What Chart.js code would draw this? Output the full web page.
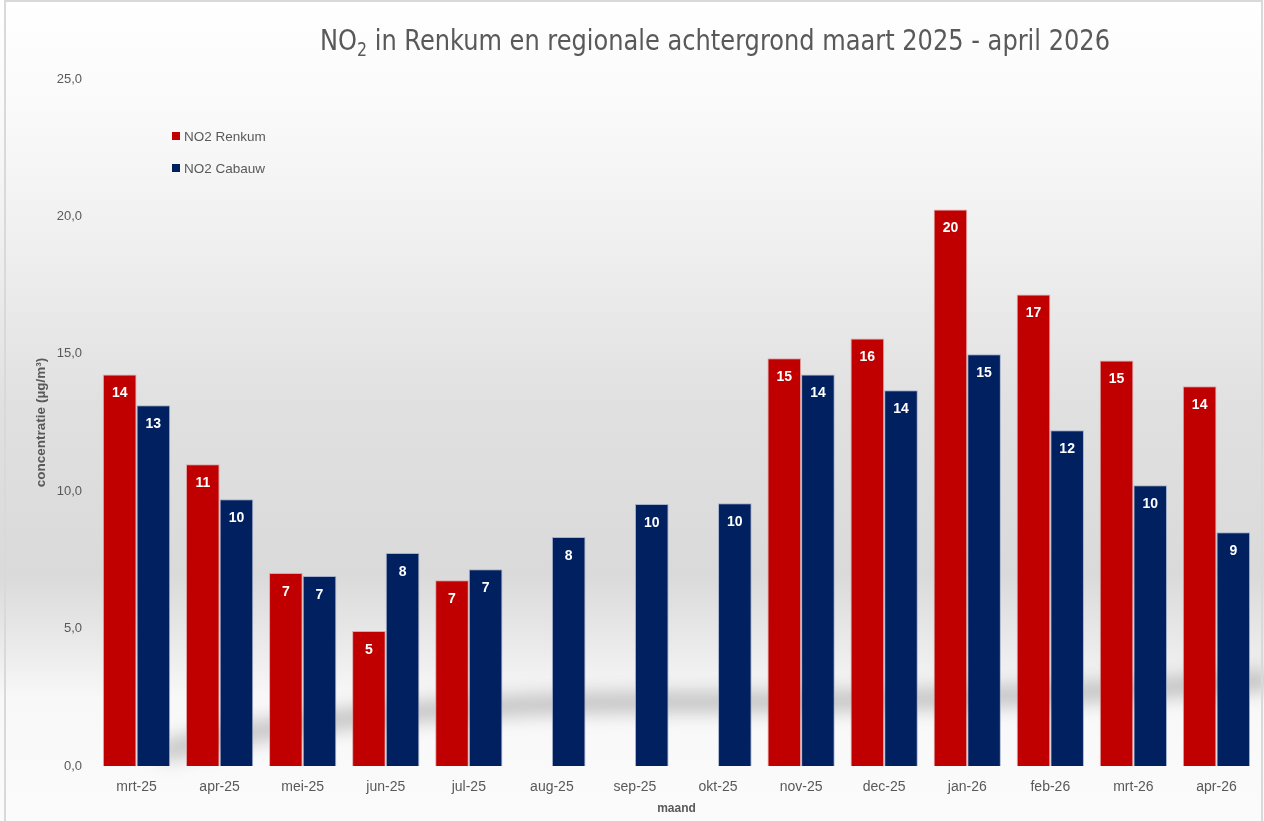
<!DOCTYPE html>
<html>
<head>
<meta charset="utf-8">
<script src="https://cdn.jsdelivr.net/npm/chart.js@4.4.1/dist/chart.umd.min.js"></script>
<style>
  html, body { margin: 0; padding: 0; background: #ffffff; }
  #wrap { width: 1264px; height: 821px; position: relative; }
</style>
</head>
<body>
<div id="wrap"><canvas id="c" width="1264" height="821"></canvas></div>
<script>
const categories = ['mrt-25','apr-25','mei-25','jun-25','jul-25','aug-25','sep-25','okt-25','nov-25','dec-25','jan-26','feb-26','mrt-26','apr-26'];
const renkum = [14.25, 10.98, 7.02, 4.91, 6.76, null, null, null, 14.84, 15.56, 20.25, 17.16, 14.76, 13.82];
const cabauw = [13.13, 9.71, 6.91, 7.75, 7.16, 8.33, 9.53, 9.56, 14.25, 13.67, 14.98, 12.22, 10.22, 8.51];
const yTicks = [0, 5, 10, 15, 20, 25];
const seriesNames = ['NO2 Renkum', 'NO2 Cabauw'];
const titleMain = 'NO';
const titleSub = '2';
const titleRest = ' in Renkum en regionale achtergrond maart 2025 - april 2026';
const yTitle = 'concentratie (µg/m³)';
const xTitle = 'maand';

const RED = '#C00000';
const NAVY = '#002060';
const GREY_TXT = '#595959';
const FONT = "'Liberation Sans', 'Open Sans', sans-serif";

const bgPlugin = {
  id: 'bg',
  beforeDraw(chart) {
    const ctx = chart.ctx;
    const W = chart.width, H = chart.height;
    ctx.save();
    const g = ctx.createLinearGradient(0, 0, 0, H);
    g.addColorStop(0.00, '#ffffff');
    g.addColorStop(0.15, '#f9f9f9');
    g.addColorStop(0.30, '#efefef');
    g.addColorStop(0.50, '#e0e0e0');
    g.addColorStop(0.70, '#dadada');
    g.addColorStop(0.79, '#ebebeb');
    g.addColorStop(0.85, '#f8f8f8');
    g.addColorStop(1.00, '#fbfbfb');
    ctx.fillStyle = g;
    ctx.fillRect(0, 0, W, H);
    // soft diagonal shadow band
    ctx.filter = 'blur(9px)';
    ctx.strokeStyle = 'rgba(140,140,140,0.5)';
    ctx.lineWidth = 20;
    ctx.beginPath();
    ctx.moveTo(160, 752);
    ctx.quadraticCurveTo(360, 700, 700, 702);
    ctx.quadraticCurveTo(1000, 702, 1270, 680);
    ctx.stroke();
    ctx.filter = 'none';
    // frame
    ctx.strokeStyle = '#d9d9d9';
    ctx.lineWidth = 2;
    ctx.strokeRect(5, 1, W - 7, H + 5);
    ctx.restore();
  }
};

const overlayPlugin = {
  id: 'overlay',
  afterDraw(chart) {
    const ctx = chart.ctx;
    ctx.save();
    // title
    ctx.fillStyle = GREY_TXT;
    ctx.textBaseline = 'alphabetic';
    ctx.textAlign = 'left';
    const big = "29px 'Liberation Sans Narrow', 'DejaVu Sans Condensed', sans-serif";
    const small = "19px 'Liberation Sans Narrow', 'DejaVu Sans Condensed', sans-serif";
    ctx.font = big;
    const w1 = ctx.measureText(titleMain).width;
    const w3 = ctx.measureText(titleRest).width;
    ctx.font = small;
    const w2 = ctx.measureText(titleSub).width;
    const total = w1 + w2 + w3;
    const target = 790;
    const sx = target / total;
    const base = 50;
    ctx.translate(715 - target / 2, 0);
    ctx.scale(sx, 1);
    let x = 0;
    ctx.font = big;
    ctx.fillText(titleMain, x, base); x += w1;
    ctx.font = small;
    ctx.fillText(titleSub, x, base + 6); x += w2;
    ctx.font = big;
    ctx.fillText(titleRest, x, base);
    ctx.setTransform(1, 0, 0, 1, 0, 0);

    // legend
    const colors = [RED, NAVY];
    ctx.font = "13.5px " + FONT;
    ctx.textBaseline = 'middle';
    seriesNames.forEach((n, i) => {
      const cy = 136 + i * 32;
      ctx.fillStyle = colors[i];
      ctx.fillRect(172, cy - 4, 8, 8);
      ctx.fillStyle = GREY_TXT;
      ctx.fillText(n, 184, cy + 1);
    });

    // data labels
    ctx.font = "bold 14px " + FONT;
    ctx.fillStyle = '#ffffff';
    ctx.textAlign = 'center';
    chart.data.datasets.forEach((ds, di) => {
      const meta = chart.getDatasetMeta(di);
      meta.data.forEach((bar, i) => {
        const v = ds.data[i];
        if (v === null || v === undefined) return;
        ctx.fillText(String(Math.round(v)), bar.x, bar.y + 19);
      });
    });
    ctx.restore();
  }
};

new Chart(document.getElementById('c'), {
  type: 'bar',
  data: {
    labels: categories,
    datasets: [
      { label: seriesNames[0], data: renkum, backgroundColor: RED, borderColor: 'rgba(220,150,150,0.8)', borderWidth: 1 },
      { label: seriesNames[1], data: cabauw, backgroundColor: NAVY, borderColor: 'rgba(150,165,200,0.8)', borderWidth: 1 }
    ]
  },
  options: {
    responsive: false,
    animation: false,
    devicePixelRatio: 1,
    layout: { padding: { top: 79, right: 6, bottom: 0, left: 0 } },
    datasets: { bar: { categoryPercentage: 0.81, barPercentage: 1.0 } },
    plugins: { legend: { display: false }, tooltip: { enabled: false }, title: { display: false } },
    scales: {
      x: {
        afterFit(scale) { scale.height = 55; },
        grid: { display: false, drawTicks: false },
        border: { display: false },
        ticks: { color: GREY_TXT, font: { family: FONT, size: 14 }, padding: 13, maxRotation: 0 },
        title: { display: true, text: xTitle, color: GREY_TXT, font: { family: FONT, size: 12, weight: 'bold' }, padding: { top: 0, bottom: 5 } }
      },
      y: {
        min: 0, max: 25,
        afterBuildTicks(scale) { scale.ticks = yTicks.map(v => ({ value: v })); },
        afterFit(scale) { scale.width = 95; },
        grid: { display: false, drawTicks: false },
        border: { display: false },
        ticks: {
          color: GREY_TXT, font: { family: FONT, size: 13 }, padding: 13,
          callback: v => v.toFixed(1).replace('.', ',')
        },
        title: { display: true, text: yTitle, color: GREY_TXT, font: { family: FONT, size: 13.5, weight: 'bold' }, padding: { top: 33, bottom: 0 } }
      }
    }
  },
  plugins: [bgPlugin, overlayPlugin]
});
</script>
</body>
</html>
